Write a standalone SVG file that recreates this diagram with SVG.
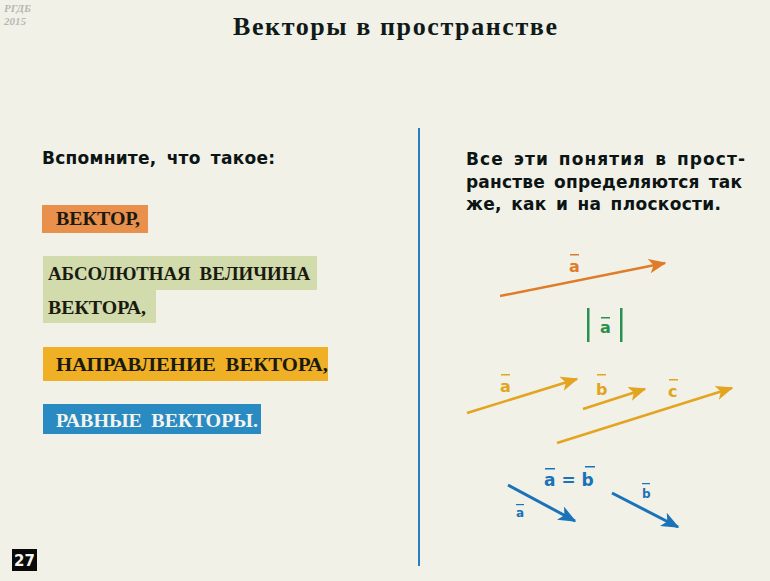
<svg xmlns="http://www.w3.org/2000/svg" width="770" height="581" viewBox="0 0 770 581">
<defs>
<style>
.title{font-family:"Liberation Serif",serif;font-weight:bold;font-size:26px;fill:#101a18}
.sans{font-family:"DejaVu Sans","Liberation Sans",sans-serif;font-weight:bold;font-size:17px;fill:#0c1414}
.box{font-family:"Liberation Serif",serif;font-weight:bold;font-size:18px;fill:#1a1a10}
.lbl{font-family:"DejaVu Sans","Liberation Sans",sans-serif;font-weight:bold;font-size:16px}
.wm{font-family:"Liberation Serif",serif;font-style:italic;font-weight:bold;font-size:11px;fill:#b8b8b0}
.or{stroke:#e07c28;fill:none;stroke-width:2.5}
.ye{stroke:#e3a420;fill:none;stroke-width:2.5}
.bl{stroke:#1a72b8;fill:none;stroke-width:3}
</style>
<marker id="mo" viewBox="0 0 12 10" refX="11" refY="5" markerWidth="7" markerHeight="6" orient="auto" markerUnits="strokeWidth"><path d="M0,0 L12,5 L0,10 L3,5 Z" fill="#e07c28"/></marker>
<marker id="my" viewBox="0 0 12 10" refX="11" refY="5" markerWidth="7" markerHeight="6" orient="auto" markerUnits="strokeWidth"><path d="M0,0 L12,5 L0,10 L3,5 Z" fill="#e3a420"/></marker>
<marker id="mb" viewBox="0 0 12 10" refX="11" refY="5" markerWidth="6" markerHeight="5" orient="auto" markerUnits="strokeWidth"><path d="M0,0 L12,5 L0,10 L3,5 Z" fill="#1a72b8"/></marker>
</defs>
<rect width="770" height="581" fill="#f1f1e8"/>
<text class="wm" x="4" y="12">РГДБ</text>
<text class="wm" x="4" y="25">2015</text>
<text class="title" x="233" y="35" textLength="324" lengthAdjust="spacing">Векторы в пространстве</text>
<line x1="419" y1="128" x2="419" y2="566" stroke="#2a7cc0" stroke-width="2"/>

<g id="left-heading"><text class="sans" x="42" y="164" textLength="233" lengthAdjust="spacing" word-spacing="4">Вспомните, что такое:</text></g>
<g id="vector-box">
<rect x="42" y="205" width="106" height="28" fill="#e8904c"/>
<text class="box" x="56" y="225" textLength="84" lengthAdjust="spacingAndGlyphs">ВЕКТОР,</text>
</g>
<g id="abs-box">
<path d="M43,256 H317 V290 H156 V323 H43 Z" fill="#d1dbab"/>
<text class="box" x="48" y="280" textLength="262" lengthAdjust="spacingAndGlyphs" word-spacing="4">АБСОЛЮТНАЯ ВЕЛИЧИНА</text>
<text class="box" x="48" y="314" textLength="98" lengthAdjust="spacingAndGlyphs">ВЕКТОРА,</text>
</g>
<g id="dir-box">
<rect x="43" y="347" width="285" height="34" fill="#efb025"/>
<text class="box" x="56" y="371" textLength="272" lengthAdjust="spacingAndGlyphs" word-spacing="4">НАПРАВЛЕНИЕ ВЕКТОРА,</text>
</g>
<g id="equal-box">
<rect x="43" y="404" width="218" height="30" fill="#2a8ac2"/>
<text class="box" x="56" y="427" textLength="202" lengthAdjust="spacingAndGlyphs" word-spacing="4" style="fill:#f4f4ee">РАВНЫЕ ВЕКТОРЫ.</text>
</g>

<g id="right-text">
<text class="sans" x="466" y="165" textLength="279" lengthAdjust="spacing" word-spacing="3">Все эти понятия в прост-</text>
<text class="sans" x="466" y="188" textLength="276" lengthAdjust="spacing" word-spacing="3">ранстве определяются так</text>
<text class="sans" x="466" y="210" textLength="255" lengthAdjust="spacing" word-spacing="3">же, как и на плоскости.</text>
</g>

<g id="connectors">
<line class="or" x1="500" y1="296" x2="665" y2="263" marker-end="url(#mo)"/>
<line class="ye" x1="467" y1="413" x2="577" y2="379" marker-end="url(#my)"/>
<line class="ye" x1="583" y1="409" x2="645" y2="389" marker-end="url(#my)"/>
<line class="ye" x1="557" y1="443" x2="732" y2="388" marker-end="url(#my)"/>
<line class="bl" x1="508" y1="485" x2="575" y2="521" marker-end="url(#mb)"/>
<line class="bl" x1="612" y1="493" x2="678" y2="527" marker-end="url(#mb)"/>
</g>

<g id="labels">
<g fill="#e07c28"><text class="lbl" x="569" y="272" fill="#e07c28">a</text><rect x="570" y="254" width="9" height="1.5"/></g>
<g id="abs-a" fill="#2a9050">
<rect x="587" y="308" width="2.5" height="34"/><rect x="620" y="308" width="2.5" height="34"/>
<text class="lbl" x="600" y="333" fill="#2a9050">a</text><rect x="601" y="317" width="9" height="1.5"/>
</g>
<g fill="#e3a420">
<text class="lbl" x="500" y="392" fill="#e3a420">a</text><rect x="501" y="374" width="9" height="1.5"/>
<text class="lbl" x="596" y="395" fill="#e3a420">b</text><rect x="597" y="374" width="9" height="1.5"/>
<text class="lbl" x="668" y="397" fill="#e3a420">c</text><rect x="669" y="379" width="9" height="1.5"/>
</g>
<g fill="#1a72b8">
<text class="lbl" x="544" y="486" fill="#1a72b8" style="font-size:17px">a = b</text>
<rect x="545" y="468" width="10" height="1.5"/><rect x="585" y="466" width="10" height="1.5"/>
<text class="lbl" x="516" y="517" fill="#1a72b8" style="font-size:12px">a</text><rect x="516" y="504" width="8" height="1.2"/>
<text class="lbl" x="642" y="498" fill="#1a72b8" style="font-size:12px">b</text><rect x="642" y="483" width="8" height="1.2"/>
</g>
</g>

<g id="page-num">
<rect x="12" y="549" width="25" height="22" fill="#0a0a0a"/>
<text x="24.5" y="566" text-anchor="middle" font-family="DejaVu Sans,sans-serif" font-weight="bold" font-size="15" fill="#f4f4ee">27</text>
</g>
</svg>
